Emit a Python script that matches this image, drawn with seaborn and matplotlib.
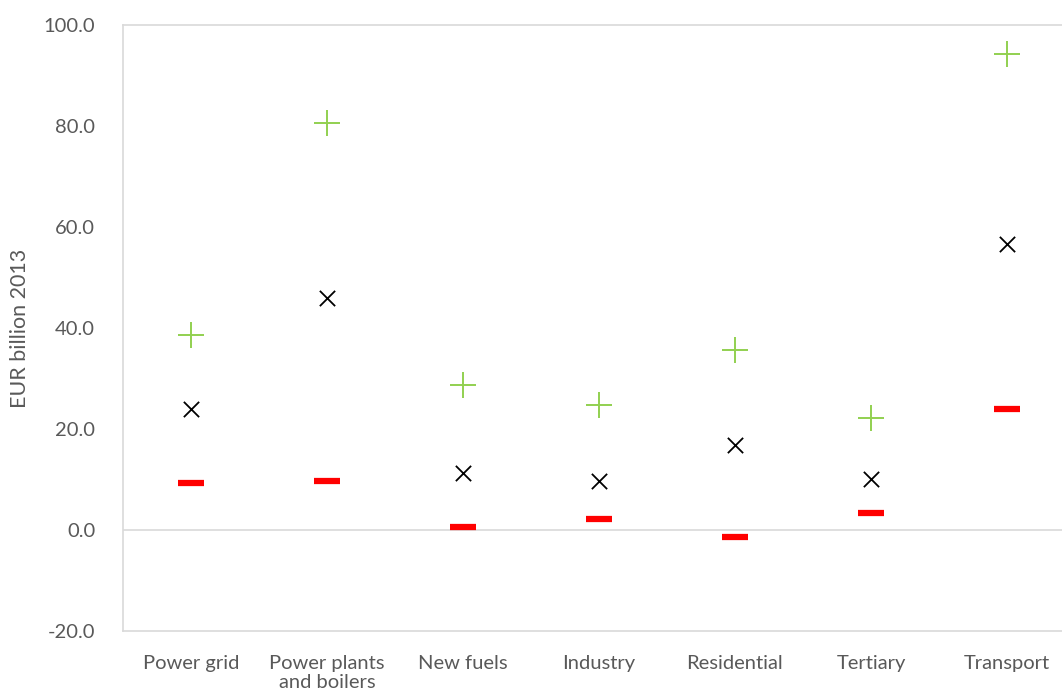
import numpy as np
import pandas as pd
import matplotlib.pyplot as plt
import seaborn as sns

categories = ["Power grid", "Power plants\nand boilers", "New fuels", "Industry",
              "Residential", "Tertiary", "Transport"]
max_vals = [38.6, 80.6, 28.7, 24.7, 35.6, 22.2, 94.2]
mean_vals = [24.0, 45.9, 11.3, 9.7, 16.8, 10.1, 56.6]
min_vals = [9.3, 9.7, 0.6, 2.2, -1.4, 3.4, 24.0]

df = pd.DataFrame({"category": categories, "max": max_vals,
                   "mean": mean_vals, "min": min_vals})

sns.set_style("white")
plt.rcParams['font.family'] = ['Lato', 'DejaVu Sans']

fig = plt.figure(figsize=(10.62, 6.91), dpi=100)
ax = fig.add_axes([0.1158, 0.0868, 0.8964, 0.877])

grid_col = "#d9d9d9"
ax.axhline(0, color=grid_col, lw=1.2, zorder=0)

sns.scatterplot(data=df, x="category", y="max", marker="+", s=19 ** 2,
                color="#92d050", linewidth=1.4, ax=ax, zorder=3)
sns.scatterplot(data=df, x="category", y="mean", marker="x", s=11 ** 2,
                color="black", linewidth=1.3, ax=ax, zorder=3)
sns.scatterplot(data=df, x="category", y="min", marker="_", s=19 ** 2,
                color="#ff0000", linewidth=4.5, ax=ax, zorder=3)

ax.set_xlim(-0.5, 6.5)
ax.set_ylim(-20, 100)
ax.set_yticks(np.arange(-20, 101, 20))
ax.set_yticklabels([f"{v:.1f}" for v in np.arange(-20, 101, 20)])
ax.set_xlabel("")
ax.set_ylabel("EUR billion 2013", fontsize=15.5, color="#595959", labelpad=10)
ax.tick_params(axis="both", length=0, labelsize=14.5, labelcolor="#595959")
ax.tick_params(axis="x", pad=17)
ax.tick_params(axis="y", pad=20)

for side in ["left", "top", "bottom"]:
    ax.spines[side].set_color(grid_col)
    ax.spines[side].set_linewidth(1.2)
ax.spines["right"].set_visible(False)

fig.savefig("out.png", dpi=100)
